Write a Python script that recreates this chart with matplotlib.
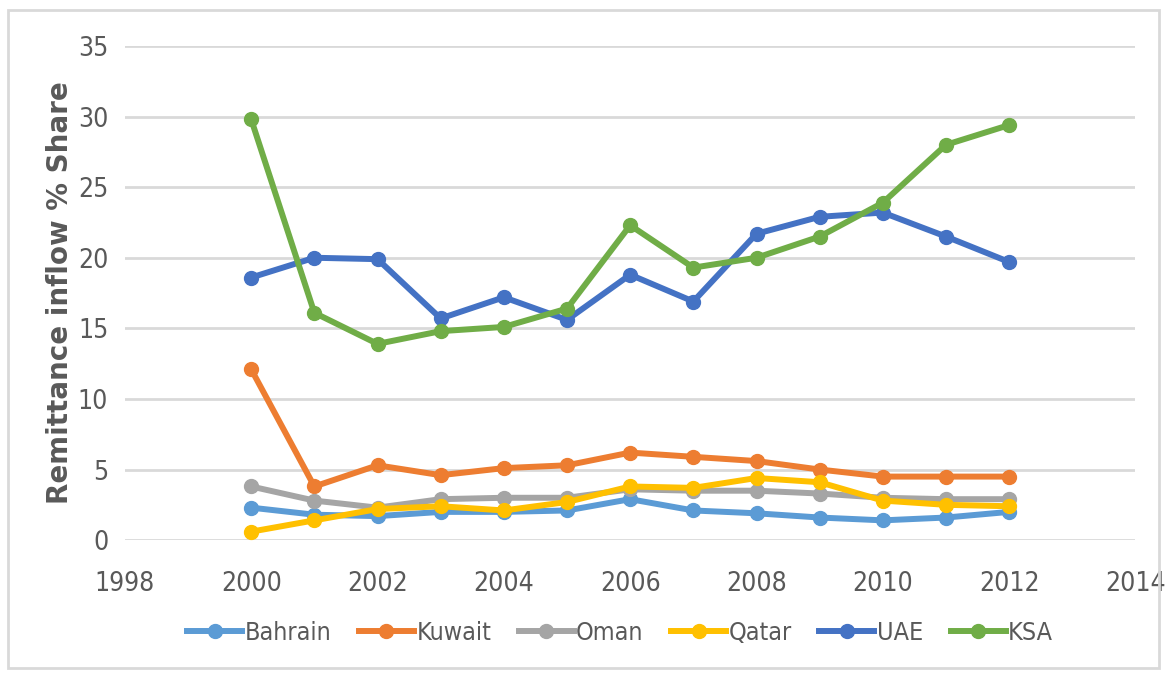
import matplotlib.pyplot as plt
from matplotlib.patches import Rectangle

plt.rcParams['font.family'] = ['DejaVu Sans']
plt.rcParams['font.stretch'] = 'condensed'

years = [2000, 2001, 2002, 2003, 2004, 2005, 2006, 2007, 2008, 2009, 2010, 2011, 2012]
bahrain = [2.3, 1.8, 1.7, 2.0, 2.0, 2.1, 2.9, 2.1, 1.9, 1.6, 1.4, 1.6, 2.0]
kuwait = [12.1, 3.8, 5.3, 4.6, 5.1, 5.3, 6.2, 5.9, 5.6, 5.0, 4.5, 4.5, 4.5]
oman = [3.8, 2.8, 2.3, 2.9, 3.0, 3.0, 3.6, 3.5, 3.5, 3.3, 3.0, 2.9, 2.9]
qatar = [0.6, 1.4, 2.2, 2.4, 2.1, 2.7, 3.8, 3.7, 4.4, 4.1, 2.8, 2.5, 2.4]
uae = [18.6, 20.0, 19.9, 15.7, 17.2, 15.6, 18.8, 16.9, 21.7, 22.9, 23.2, 21.5, 19.7]
ksa = [29.8, 16.1, 13.9, 14.8, 15.1, 16.4, 22.3, 19.3, 20.0, 21.5, 23.9, 28.0, 29.4]

series = [('Bahrain', bahrain, '#5b9bd5'), ('Kuwait', kuwait, '#ed7d31'),
          ('Oman', oman, '#a5a5a5'), ('Qatar', qatar, '#ffc000'),
          ('UAE', uae, '#4472c4'), ('KSA', ksa, '#70ad47')]

fig = plt.figure(figsize=(11.67, 6.76), dpi=100)
# light border round the whole chart
fig.patches.append(Rectangle((0.007, 0.012), 0.986, 0.973, transform=fig.transFigure,
                             fill=False, edgecolor='#d9d9d9', linewidth=2))
ax = fig.add_axes([0.107, 0.201, 0.866, 0.731])

for name, vals, col in series:
    ax.plot(years, vals, color=col, linewidth=4.3, marker='o', markersize=10,
            label=name, zorder=3)

ax.set_xlim(1998, 2014)
ax.set_ylim(0, 35)
ax.set_xticks(range(1998, 2015, 2))
ax.set_yticks(range(0, 36, 5))
ax.grid(axis='y', color='#d9d9d9', linewidth=2)
ax.set_axisbelow(True)
for s in ax.spines.values():
    s.set_visible(False)
ax.tick_params(length=0, labelsize=19, labelcolor='#595959')
ax.tick_params(axis='y', pad=12)
ax.tick_params(axis='x', pad=22)
ax.set_ylabel('Remittance inflow % Share', fontsize=20, fontweight='bold',
              fontstretch='normal', color='#595959', labelpad=3)

ax.legend(loc='upper center', bbox_to_anchor=(0.49, -0.118), ncol=6, frameon=False,
          fontsize=18, labelcolor='#595959', handlelength=2.2, columnspacing=1.1,
          handletextpad=0.1)

fig.savefig('out.png', dpi=100)
